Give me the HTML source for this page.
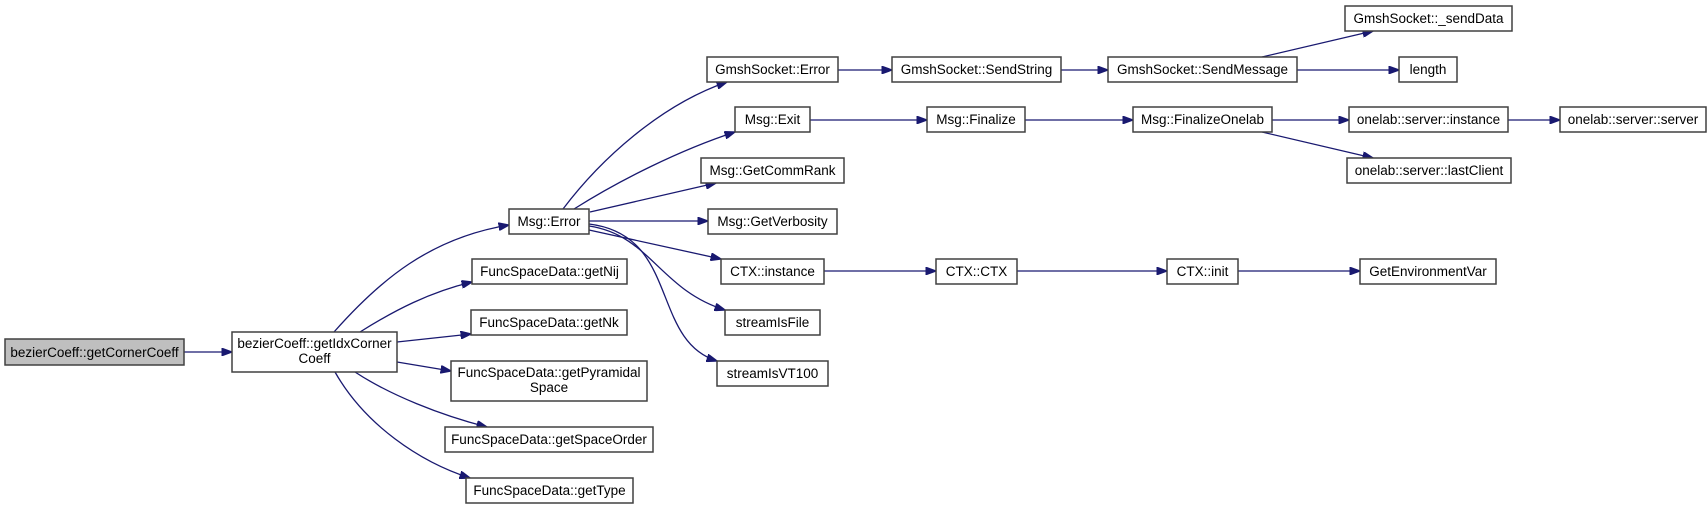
<!DOCTYPE html>
<html><head><meta charset="utf-8"><style>
html,body{margin:0;padding:0;background:#fff;}
svg{display:block;}
text{font-family:"Liberation Sans",sans-serif;font-size:13.5px;fill:#000;}
rect{fill:#fff;stroke:#404040;stroke-width:1.5;}
path{fill:none;stroke:#191970;stroke-width:1.3;}
</style></head><body>
<svg width="1707" height="509" viewBox="0 0 1707 509" xmlns="http://www.w3.org/2000/svg">
<defs><marker id="a" markerWidth="11" markerHeight="8" refX="10.5" refY="4" orient="auto" markerUnits="userSpaceOnUse"><path d="M0,0 L11,4 L0,8 Z" style="fill:#191970;stroke:#191970;stroke-width:1"/></marker></defs>
<g marker-end="url(#a)">
<path d="M184,352 L232,352"/>
<path d="M334,332 C380,280 430,238 509,225"/>
<path d="M360,332 C395,310 430,292 472,282"/>
<path d="M397,342 L471,334"/>
<path d="M397,362 L451,371"/>
<path d="M355,372 C390,395 440,415 487,427"/>
<path d="M335,372 C365,425 420,462 470,478"/>
<path d="M563,209 C600,160 660,105 727,82"/>
<path d="M574,209 C620,180 680,150 735,132"/>
<path d="M590,212 L716,183"/>
<path d="M589,221 L708,221"/>
<path d="M589,230 L721,259"/>
<path d="M589,226 C650,235 660,290 725,310"/>
<path d="M589,224 C680,235 650,340 717,361"/>
<path d="M838,70 L892,70"/>
<path d="M1061,70 L1108,70"/>
<path d="M1297,70 L1399,70"/>
<path d="M1262,57 L1373,31"/>
<path d="M810,120 L927,120"/>
<path d="M1025,120 L1133,120"/>
<path d="M1272,120 L1349,120"/>
<path d="M1508,120 L1560,120"/>
<path d="M1262,132 L1373,158"/>
<path d="M824,271 L936,271"/>
<path d="M1017,271 L1167,271"/>
<path d="M1238,271 L1360,271"/>
</g>
<rect x="5" y="339" width="179" height="26" style="fill:#bfbfbf"/><text x="94.5" y="357" text-anchor="middle">bezierCoeff::getCornerCoeff</text>
<rect x="232" y="332" width="165" height="40"/><text x="314.5" y="348" text-anchor="middle">bezierCoeff::getIdxCorner</text><text x="314.5" y="363" text-anchor="middle">Coeff</text>
<rect x="509" y="209" width="80" height="25"/><text x="549" y="226" text-anchor="middle">Msg::Error</text>
<rect x="472" y="259" width="155" height="25"/><text x="549.5" y="276" text-anchor="middle">FuncSpaceData::getNij</text>
<rect x="471" y="310" width="156" height="25"/><text x="549" y="327" text-anchor="middle">FuncSpaceData::getNk</text>
<rect x="451" y="361" width="196" height="40"/><text x="549" y="377" text-anchor="middle">FuncSpaceData::getPyramidal</text><text x="549" y="392" text-anchor="middle">Space</text>
<rect x="445" y="427" width="208" height="25"/><text x="549" y="444" text-anchor="middle">FuncSpaceData::getSpaceOrder</text>
<rect x="466" y="478" width="167" height="25"/><text x="549.5" y="495" text-anchor="middle">FuncSpaceData::getType</text>
<rect x="707" y="57" width="131" height="25"/><text x="772.5" y="74" text-anchor="middle">GmshSocket::Error</text>
<rect x="735" y="107" width="75" height="25"/><text x="772.5" y="124" text-anchor="middle">Msg::Exit</text>
<rect x="701" y="158" width="143" height="25"/><text x="772.5" y="175" text-anchor="middle">Msg::GetCommRank</text>
<rect x="708" y="209" width="129" height="25"/><text x="772.5" y="226" text-anchor="middle">Msg::GetVerbosity</text>
<rect x="721" y="259" width="103" height="25"/><text x="772.5" y="276" text-anchor="middle">CTX::instance</text>
<rect x="725" y="310" width="95" height="25"/><text x="772.5" y="327" text-anchor="middle">streamIsFile</text>
<rect x="717" y="361" width="111" height="25"/><text x="772.5" y="378" text-anchor="middle">streamIsVT100</text>
<rect x="892" y="57" width="169" height="25"/><text x="976.5" y="74" text-anchor="middle">GmshSocket::SendString</text>
<rect x="1108" y="57" width="189" height="25"/><text x="1202.5" y="74" text-anchor="middle">GmshSocket::SendMessage</text>
<rect x="1345" y="6" width="167" height="25"/><text x="1428.5" y="23" text-anchor="middle">GmshSocket::_sendData</text>
<rect x="1399" y="57" width="58" height="25"/><text x="1428" y="74" text-anchor="middle">length</text>
<rect x="927" y="107" width="98" height="25"/><text x="976" y="124" text-anchor="middle">Msg::Finalize</text>
<rect x="1133" y="107" width="139" height="25"/><text x="1202.5" y="124" text-anchor="middle">Msg::FinalizeOnelab</text>
<rect x="1349" y="107" width="159" height="25"/><text x="1428.5" y="124" text-anchor="middle">onelab::server::instance</text>
<rect x="1560" y="107" width="146" height="25"/><text x="1633" y="124" text-anchor="middle">onelab::server::server</text>
<rect x="1347" y="158" width="164" height="25"/><text x="1429" y="175" text-anchor="middle">onelab::server::lastClient</text>
<rect x="936" y="259" width="81" height="25"/><text x="976.5" y="276" text-anchor="middle">CTX::CTX</text>
<rect x="1167" y="259" width="71" height="25"/><text x="1202.5" y="276" text-anchor="middle">CTX::init</text>
<rect x="1360" y="259" width="136" height="25"/><text x="1428" y="276" text-anchor="middle">GetEnvironmentVar</text>
</svg>
</body></html>
